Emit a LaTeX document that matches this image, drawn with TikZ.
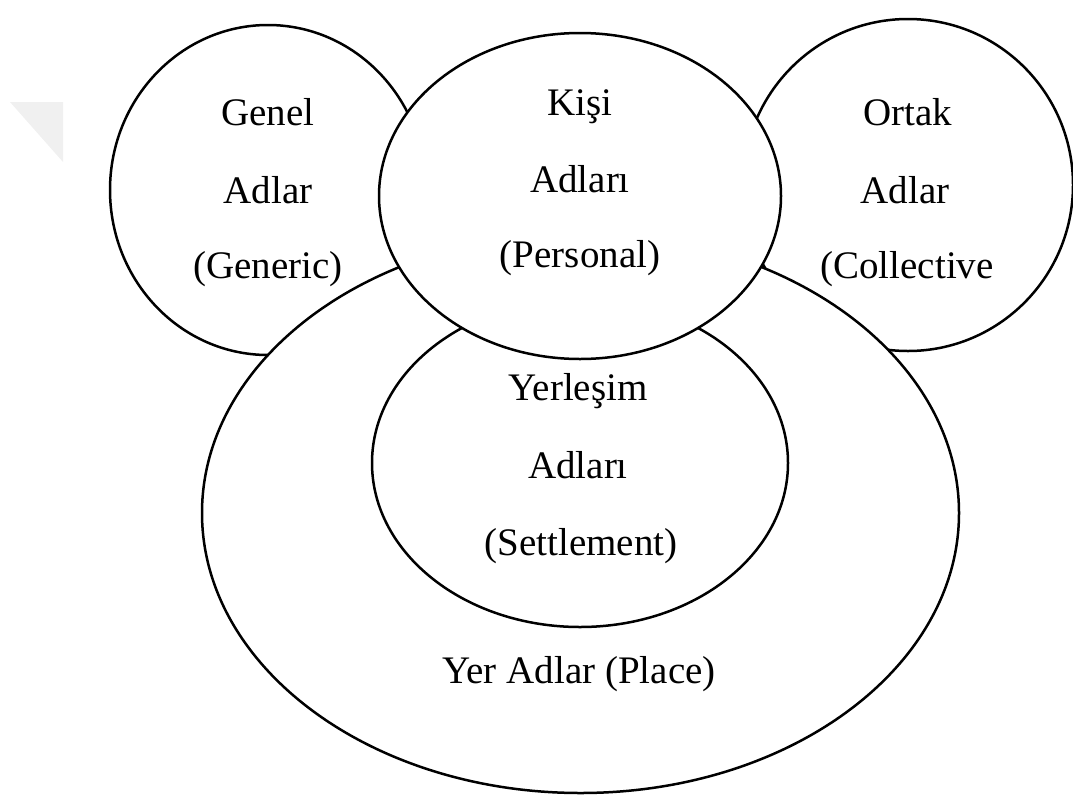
\documentclass[tikz,border=0pt]{standalone}
\usepackage{fontspec}
\setmainfont{Liberation Serif}
\usetikzlibrary{shapes.geometric}

\begin{document}
\begin{tikzpicture}[x=1pt, y=-1pt, line width=2.5pt]
      \tikzstyle{every node}=[font=\fontsize{39}{47}\selectfont, inner sep=0pt]
      \tikzstyle{region}=[ellipse, draw, fill=white]
      \tikzstyle{word}=[anchor=base]
      \useasboundingbox (0, 0) rectangle (1073, 796);
      \fill[black!6] (10, 102) -- (63, 102) -- (63, 162) -- cycle;
      \node [region, minimum width=316pt, minimum height=330pt] (genel) at (268, 190) {};
      \node [region, minimum width=330pt, minimum height=332pt] (ortak) at (908, 185) {};
      \node [region, minimum width=757pt, minimum height=560pt] (yer) at (580.5, 513) {};
      \node [region, minimum width=416pt, minimum height=328pt] (yerlesim) at (580, 463) {};
      \node [region, minimum width=402pt, minimum height=326pt] (kisi) at (580, 196) {};
      % genel adlar
      \node [word] (g1) at (268, 125) {Genel};
      \node [word] (g2) at (268, 203) {Adlar};
      \node [word] (g3) at (268, 278) {(Generic)};
      % ortak adlar
      \node [word] (o1) at (908, 125) {Ortak};
      \node [word] (o2) at (905, 203) {Adlar};
      \node [word] (o3) at (907, 278) {(Collective};
      % kisi adlari
      \node [word] (k1) at (580, 115) {Kişi};
      \node [word] (k2) at (580, 192) {Adları};
      \node [word] (k3) at (580, 267) {(Personal)};
      % yerlesim adlari
      \node [word] (y1) at (578, 400) {Yerleşim};
      \node [word] (y2) at (578, 478) {Adları};
      \node [word] (y3) at (581, 555) {(Settlement)};
      \node [word] (p1) at (579, 683) {Yer Adlar (Place)};
    \end{tikzpicture}
\end{document}
